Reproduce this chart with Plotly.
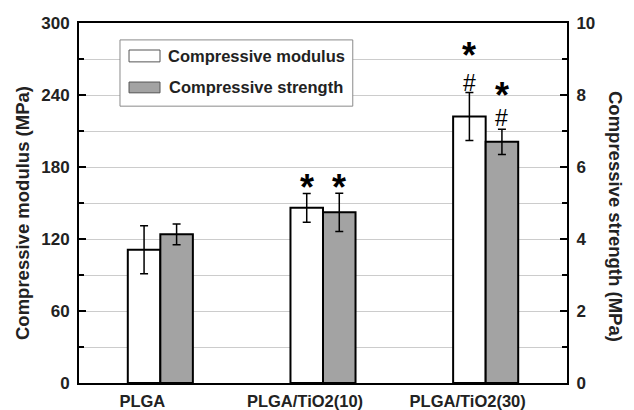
import plotly.graph_objects as go

categories = ["PLGA", "PLGA/TiO2(10)", "PLGA/TiO2(30)"]
modulus = [111, 146, 222]          # MPa
modulus_err = [20, 12, 20]
strength = [4.13, 4.74, 6.70]      # MPa
strength_err = [0.29, 0.53, 0.35]
y1_ticks = [0, 60, 120, 180, 240, 300]
y2_ticks = [0, 2, 4, 6, 8, 10]
legend_labels = ["Compressive modulus", "Compressive strength"]

FONT = "Liberation Sans"
TXT = "#222222"
GRAY = "#a3a3a3"
x = list(range(len(categories)))

fig = go.Figure()
fig.add_trace(go.Bar(
    x=x, y=modulus, name=legend_labels[0], showlegend=False,
    width=0.2, offset=-0.2, offsetgroup="a",
    marker=dict(color="white", line=dict(color="black", width=2)),
    error_y=dict(type="data", array=modulus_err, color="black", thickness=1.5, width=4),
    yaxis="y"))
fig.add_trace(go.Bar(
    x=x, y=strength, name=legend_labels[1], showlegend=False,
    width=0.2, offset=0, offsetgroup="b",
    marker=dict(color=GRAY, line=dict(color="black", width=2)),
    error_y=dict(type="data", array=strength_err, color="black", thickness=1.5, width=4),
    yaxis="y2"))

ann = []
def mark(xv, yv, yref, text, shift, size, bold=True):
    ann.append(dict(x=xv, y=yv, xref="x", yref=yref, xanchor="center", yanchor="middle",
                    text=("<b>%s</b>" % text) if bold else text, showarrow=False,
                    yshift=shift, font=dict(family=FONT, size=size, color="black")))

# TiO2(10)
mark(1 - 0.1, modulus[1] + modulus_err[1], "y", "*", 6, 36)
mark(1 + 0.1, strength[1] + strength_err[1], "y2", "*", 6, 36)
# TiO2(30)
mark(2 - 0.1, modulus[2] + modulus_err[2], "y", "#", 10, 23, bold=False)
mark(2 - 0.1, modulus[2] + modulus_err[2], "y", "*", 37, 36)
mark(2 + 0.1, strength[2] + strength_err[2], "y2", "#", 11, 23, bold=False)
mark(2 + 0.1, strength[2] + strength_err[2], "y2", "*", 34, 36)

# axis titles
ann.append(dict(x=0, xref="paper", xanchor="center", xshift=-57, y=0.5, yref="paper",
                yanchor="middle", yshift=-10,
                text="<b>Compressive modulus (MPa)</b>", textangle=-90, showarrow=False,
                font=dict(family=FONT, size=18.5, color=TXT)))
ann.append(dict(x=1, xref="paper", xanchor="center", xshift=49, y=0.5, yref="paper",
                yanchor="middle", yshift=-13,
                text="<b>Compressive strength (MPa)</b>", textangle=90, showarrow=False,
                font=dict(family=FONT, size=18.5, color=TXT)))

# manual legend (box, swatches, labels) in paper coordinates
shapes = [
    dict(type="rect", xref="paper", yref="paper", x0=0.084, x1=0.561, y0=0.769, y1=0.953,
         line=dict(color="#8a8a8a", width=1), fillcolor="white", layer="above"),
    dict(type="rect", xref="paper", yref="paper", x0=0.1025, x1=0.166, y0=0.892, y1=0.925,
         line=dict(color="#555", width=1), fillcolor="white", layer="above"),
    dict(type="rect", xref="paper", yref="paper", x0=0.1025, x1=0.166, y0=0.806, y1=0.836,
         line=dict(color="#555", width=1), fillcolor=GRAY, layer="above"),
]
ann.append(dict(x=0.178, xref="paper", xanchor="left", y=0.908, yref="paper", yanchor="middle",
                text="<b>%s</b>" % legend_labels[0], showarrow=False,
                font=dict(family=FONT, size=16.5, color=TXT)))
ann.append(dict(x=0.180, xref="paper", xanchor="left", y=0.822, yref="paper", yanchor="middle",
                text="<b>%s</b>" % legend_labels[1], showarrow=False,
                font=dict(family=FONT, size=16.5, color=TXT)))

# the page body keeps the browser's 8 px margin, so the figure is laid out
# 8 px smaller and the plot area is placed to land where the reference has it
fig.update_layout(
    width=626, height=402,
    margin=dict(l=71, r=67, t=15, b=27, autoexpand=False),
    paper_bgcolor="white", plot_bgcolor="white",
    font=dict(family=FONT, size=16, color=TXT),
    showlegend=False,
    xaxis=dict(range=[-0.5, 2.5], tickvals=x,
               ticktext=["<b>%s</b>" % c for c in categories],
               showline=True, linecolor="black", linewidth=2, mirror=True,
               ticks="", showgrid=False, zeroline=False, automargin=False,
               ticklabelshift=-18, ticklabelstandoff=2,
               tickfont=dict(family=FONT, size=16.5, color=TXT)),
    yaxis=dict(range=[0, 300], tickvals=y1_ticks,
               ticktext=["<b>%d</b>" % v for v in y1_ticks],
               showline=True, linecolor="black", linewidth=2, automargin=False,
               ticks="inside", ticklen=7, tickwidth=1.5, tickcolor="black",
               ticklabelstandoff=4,
               minor=dict(dtick=30, ticks="inside", ticklen=5, tickcolor="black",
                          showgrid=True, gridcolor="#cccccc", gridwidth=1.2),
               showgrid=True, gridcolor="#cccccc", gridwidth=1.2, zeroline=False,
               tickfont=dict(family=FONT, size=17, color=TXT)),
    yaxis2=dict(range=[0, 10], tickvals=y2_ticks,
                ticktext=["<b>%d</b>" % v for v in y2_ticks],
                overlaying="y", side="right", automargin=False,
                showline=True, linecolor="black", linewidth=2,
                ticks="inside", ticklen=7, tickwidth=1.5, tickcolor="black",
                ticklabelstandoff=4,
                minor=dict(dtick=1, ticks="inside", ticklen=5, tickcolor="black", showgrid=False),
                showgrid=False, zeroline=False,
                tickfont=dict(family=FONT, size=17, color=TXT)),
    annotations=ann,
    shapes=shapes,
)

fig.write_html("out.html")
